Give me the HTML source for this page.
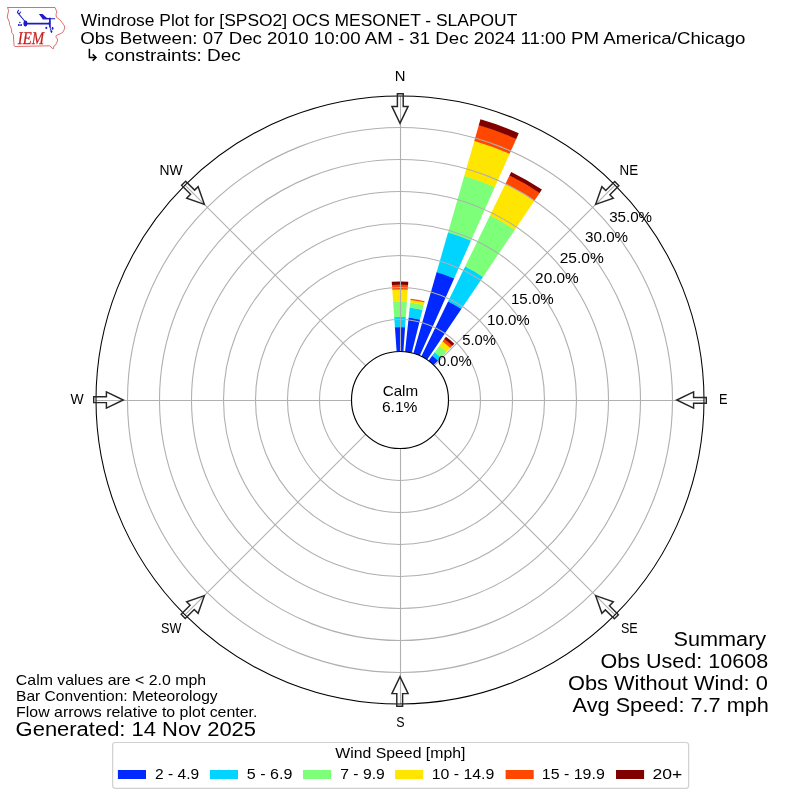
<!DOCTYPE html>
<html><head><meta charset="utf-8"><title>Windrose Plot</title>
<style>
html,body{margin:0;padding:0;background:#fff;width:800px;height:800px;overflow:hidden}
svg{display:block;will-change:transform}
text{font-family:"Liberation Sans",sans-serif;fill:#000;white-space:pre}
.g{fill:none;stroke:#b0b0b0;stroke-width:1.1}
.ar{fill:none;stroke:#262626;stroke-width:1.45;stroke-linejoin:miter;stroke-miterlimit:10}
</style></head><body>
<svg width="800" height="800" viewBox="0 0 800 800">
<rect width="800" height="800" fill="#fff"/>
<g id="bars">
<path d="M396.62 351.62L394.90 327.08A73.10 73.10 0 0 1 405.10 327.08L403.38 351.62A48.50 48.50 0 0 0 396.62 351.62Z" fill="#0028ff"/>
<path d="M394.93 327.43L394.18 316.80A83.40 83.40 0 0 1 405.82 316.80L405.07 327.43A72.75 72.75 0 0 0 394.93 327.43Z" fill="#00d4ff"/>
<path d="M394.21 317.15L393.12 301.64A98.60 98.60 0 0 1 406.88 301.64L405.79 317.15A83.05 83.05 0 0 0 394.21 317.15Z" fill="#7dff7a"/>
<path d="M393.15 301.99L392.27 289.47A110.80 110.80 0 0 1 407.73 289.47L406.85 301.99A98.25 98.25 0 0 0 393.15 301.99Z" fill="#ffe600"/>
<path d="M392.30 289.82L391.94 284.68A115.60 115.60 0 0 1 408.06 284.68L407.70 289.82A110.45 110.45 0 0 0 392.30 289.82Z" fill="#ff4700"/>
<path d="M391.96 285.03L391.73 281.69A118.60 118.60 0 0 1 408.27 281.69L408.04 285.03A115.25 115.25 0 0 0 391.96 285.03Z" fill="#800000"/>
<path d="M405.07 351.77L408.68 317.45A83.00 83.00 0 0 1 420.08 319.47L411.73 352.94A48.50 48.50 0 0 0 405.07 351.77Z" fill="#0028ff"/>
<path d="M408.64 317.80L409.72 307.51A93.00 93.00 0 0 1 422.50 309.76L419.99 319.81A82.65 82.65 0 0 0 408.64 317.80Z" fill="#00d4ff"/>
<path d="M409.68 307.86L410.25 302.44A98.10 98.10 0 0 1 423.73 304.81L422.41 310.10A92.65 92.65 0 0 0 409.68 307.86Z" fill="#7dff7a"/>
<path d="M410.22 302.79L410.56 299.55A101.00 101.00 0 0 1 424.43 302.00L423.65 305.15A97.75 97.75 0 0 0 410.22 302.79Z" fill="#ffe600"/>
<path d="M410.52 299.90L410.63 298.86A101.70 101.70 0 0 1 424.60 301.32L424.35 302.34A100.65 100.65 0 0 0 410.52 299.90Z" fill="#ff4700"/>
<path d="M413.37 353.38L436.74 271.86A133.30 133.30 0 0 1 454.22 278.22L419.73 355.69A48.50 48.50 0 0 0 413.37 353.38Z" fill="#0028ff"/>
<path d="M436.65 272.20L448.15 232.07A174.70 174.70 0 0 1 471.06 240.40L454.08 278.54A132.95 132.95 0 0 0 436.65 272.20Z" fill="#00d4ff"/>
<path d="M448.06 232.40L464.31 175.74A233.30 233.30 0 0 1 494.89 186.87L470.91 240.72A174.35 174.35 0 0 0 448.06 232.40Z" fill="#7dff7a"/>
<path d="M464.21 176.07L474.37 140.65A269.80 269.80 0 0 1 509.74 153.53L494.75 187.19A232.95 232.95 0 0 0 464.21 176.07Z" fill="#ffe600"/>
<path d="M474.27 140.99L478.86 124.98A286.10 286.10 0 0 1 516.37 138.63L509.60 153.85A269.45 269.45 0 0 0 474.27 140.99Z" fill="#ff4700"/>
<path d="M478.76 125.32L480.49 119.31A292.00 292.00 0 0 1 518.77 133.24L516.22 138.95A285.75 285.75 0 0 0 478.76 125.32Z" fill="#800000"/>
<path d="M421.26 356.41L448.22 301.13A110.00 110.00 0 0 1 461.51 308.81L427.12 359.79A48.50 48.50 0 0 0 421.26 356.41Z" fill="#0028ff"/>
<path d="M448.07 301.45L465.23 266.26A148.80 148.80 0 0 1 483.21 276.64L461.32 309.10A109.65 109.65 0 0 0 448.07 301.45Z" fill="#00d4ff"/>
<path d="M465.08 266.57L490.09 215.30A205.50 205.50 0 0 1 514.91 229.63L483.01 276.93A148.45 148.45 0 0 0 465.08 266.57Z" fill="#7dff7a"/>
<path d="M489.93 215.61L505.52 183.66A240.70 240.70 0 0 1 534.60 200.45L514.72 229.92A205.15 205.15 0 0 0 489.93 215.61Z" fill="#ffe600"/>
<path d="M505.36 183.97L509.59 175.30A250.00 250.00 0 0 1 539.80 192.74L534.40 200.74A240.35 240.35 0 0 0 505.36 183.97Z" fill="#ff4700"/>
<path d="M509.44 175.62L511.26 171.89A253.80 253.80 0 0 1 541.92 189.59L539.60 193.03A249.65 249.65 0 0 0 509.44 175.62Z" fill="#800000"/>
<path d="M428.51 360.76L432.33 355.50A55.00 55.00 0 0 1 438.21 360.44L433.69 365.11A48.50 48.50 0 0 0 428.51 360.76Z" fill="#0028ff"/>
<path d="M432.12 355.79L434.80 352.11A59.20 59.20 0 0 1 441.12 357.42L437.96 360.69A54.65 54.65 0 0 0 432.12 355.79Z" fill="#00d4ff"/>
<path d="M434.59 352.39L439.50 345.63A67.20 67.20 0 0 1 446.68 351.66L440.88 357.67A58.85 58.85 0 0 0 434.59 352.39Z" fill="#7dff7a"/>
<path d="M439.29 345.92L442.73 341.18A72.70 72.70 0 0 1 450.50 347.70L446.44 351.91A66.85 66.85 0 0 0 439.29 345.92Z" fill="#ffe600"/>
<path d="M442.53 341.47L444.44 338.84A75.60 75.60 0 0 1 452.52 345.62L450.26 347.96A72.35 72.35 0 0 0 442.53 341.47Z" fill="#ff4700"/>
<path d="M444.23 339.12L445.96 336.73A78.20 78.20 0 0 1 454.32 343.75L452.27 345.87A75.25 75.25 0 0 0 444.23 339.12Z" fill="#800000"/>
</g>
<g id="grid" class="g">
<circle cx="400" cy="400" r="80.5"/>
<circle cx="400" cy="400" r="112.5"/>
<circle cx="400" cy="400" r="144.5"/>
<circle cx="400" cy="400" r="176.5"/>
<circle cx="400" cy="400" r="208.5"/>
<circle cx="400" cy="400" r="240.5"/>
<circle cx="400" cy="400" r="272.5"/>
<line x1="400.5" y1="96" x2="400.5" y2="704"/><line x1="96" y1="400.5" x2="704" y2="400.5"/>
<line x1="185.04" y1="614.96" x2="614.96" y2="185.04"/>
<line x1="185.04" y1="185.04" x2="614.96" y2="614.96"/>
</g>
<circle cx="400" cy="400" r="304" fill="none" stroke="#000" stroke-width="1.05"/>
<circle cx="400" cy="400" r="48.5" fill="#fff" stroke="#000" stroke-width="1.15"/>
<g id="arrows" class="ar">
<path transform="translate(400 400) rotate(0)" d="M-2.6 -306.3L3.2 -306.3L3.2 -293.6L8.1 -293.6L0 -276.7L-8.1 -293.6L-2.6 -293.6Z"/>
<path transform="translate(400 400) rotate(45)" d="M-2.6 -306.3L3.2 -306.3L3.2 -293.6L8.1 -293.6L0 -276.7L-8.1 -293.6L-2.6 -293.6Z"/>
<path transform="translate(400 400) rotate(90)" d="M-2.6 -306.3L3.2 -306.3L3.2 -293.6L8.1 -293.6L0 -276.7L-8.1 -293.6L-2.6 -293.6Z"/>
<path transform="translate(400 400) rotate(135)" d="M-2.6 -306.3L3.2 -306.3L3.2 -293.6L8.1 -293.6L0 -276.7L-8.1 -293.6L-2.6 -293.6Z"/>
<path transform="translate(400 400) rotate(180)" d="M-2.6 -306.3L3.2 -306.3L3.2 -293.6L8.1 -293.6L0 -276.7L-8.1 -293.6L-2.6 -293.6Z"/>
<path transform="translate(400 400) rotate(225)" d="M-2.6 -306.3L3.2 -306.3L3.2 -293.6L8.1 -293.6L0 -276.7L-8.1 -293.6L-2.6 -293.6Z"/>
<path transform="translate(400 400) rotate(270)" d="M-2.6 -306.3L3.2 -306.3L3.2 -293.6L8.1 -293.6L0 -276.7L-8.1 -293.6L-2.6 -293.6Z"/>
<path transform="translate(400 400) rotate(315)" d="M-2.6 -306.3L3.2 -306.3L3.2 -293.6L8.1 -293.6L0 -276.7L-8.1 -293.6L-2.6 -293.6Z"/>
</g>
<text transform="translate(80.87 25.60) scale(1.0151 1)" font-size="17.17">Windrose Plot for [SPSO2] OCS MESONET - SLAPOUT</text>
<text transform="translate(80.18 43.50) scale(1.0885 1)" font-size="17.17">Obs Between: 07 Dec 2010 10:00 AM - 31 Dec 2024 11:00 PM America/Chicago</text>
<text transform="translate(104.57 61.00) scale(1.1069 1)" font-size="17.17">constraints: Dec</text>
<path d="M89.4 48.8V57.5H95.8" fill="none" stroke="#000" stroke-width="1.5"/><path d="M92.7 54.4L96 57.5L92.7 60.6" fill="none" stroke="#000" stroke-width="1.5"/>
<text transform="translate(15.87 684.70) scale(1.1101 1)" font-size="14.31">Calm values are &lt; 2.0 mph</text>
<text transform="translate(16.08 700.90) scale(1.0887 1)" font-size="14.31">Bar Convention: Meteorology</text>
<text transform="translate(16.05 716.70) scale(1.1122 1)" font-size="14.31">Flow arrows relative to plot center.</text>
<text transform="translate(15.60 735.90) scale(1.0976 1)" font-size="20.02">Generated: 14 Nov 2025</text>
<text transform="translate(673.55 645.50) scale(1.0820 1)" font-size="20.02">Summary</text>
<text transform="translate(600.46 667.60) scale(1.0766 1)" font-size="20.02">Obs Used: 10608</text>
<text transform="translate(568.05 689.70) scale(1.0890 1)" font-size="20.02">Obs Without Wind: 0</text>
<text transform="translate(572.60 711.80) scale(1.0843 1)" font-size="20.02">Avg Speed: 7.7 mph</text>
<text transform="translate(394.83 80.80) scale(1.0375 1)" font-size="14.31">N</text>
<text transform="translate(619.55 174.70) scale(0.9324 1)" font-size="14.31">NE</text>
<text transform="translate(719.00 403.75) scale(0.8903 1)" font-size="14.31">E</text>
<text transform="translate(620.95 632.60) scale(0.8789 1)" font-size="14.31">SE</text>
<text transform="translate(396.25 726.60) scale(0.8727 1)" font-size="14.31">S</text>
<text transform="translate(160.95 632.50) scale(0.8876 1)" font-size="14.31">SW</text>
<text transform="translate(70.48 403.75) scale(0.9736 1)" font-size="14.31">W</text>
<text transform="translate(159.51 174.60) scale(0.9680 1)" font-size="14.31">NW</text>
<text transform="translate(382.70 395.50) scale(1.0630 1)" font-size="14.31">Calm</text>
<text transform="translate(381.93 412.00) scale(1.0896 1)" font-size="14.31">6.1%</text>
<text transform="translate(437.93 366.00) scale(1.0317 1)" font-size="14.31">0.0%</text>
<text transform="translate(462.15 345.00) scale(1.0359 1)" font-size="14.31">5.0%</text>
<text transform="translate(487.01 325.00) scale(1.0547 1)" font-size="14.31">10.0%</text>
<text transform="translate(510.91 304.00) scale(1.0572 1)" font-size="14.31">15.0%</text>
<text transform="translate(535.09 283.00) scale(1.0777 1)" font-size="14.31">20.0%</text>
<text transform="translate(559.69 263.00) scale(1.0854 1)" font-size="14.31">25.0%</text>
<text transform="translate(585.07 242.00) scale(1.0608 1)" font-size="14.31">30.0%</text>
<text transform="translate(609.17 222.00) scale(1.0582 1)" font-size="14.31">35.0%</text>
<rect x="112.65" y="742.5" width="576" height="45.9" rx="2.8" fill="#fff" stroke="#d0d0d0" stroke-width="1.2"/>
<text transform="translate(335.26 758.40) scale(1.1061 1)" font-size="14.31">Wind Speed [mph]</text>
<rect x="117.9" y="770" width="28.1" height="9" fill="#0028ff"/>
<text transform="translate(155.09 779.00) scale(1.0863 1)" font-size="14.31">2 - 4.9</text>
<rect x="209.9" y="770" width="28.1" height="9" fill="#00d4ff"/>
<text transform="translate(246.80 779.00) scale(1.1236 1)" font-size="14.31">5 - 6.9</text>
<rect x="303.0" y="770" width="28.1" height="9" fill="#7dff7a"/>
<text transform="translate(340.28 779.00) scale(1.0965 1)" font-size="14.31">7 - 9.9</text>
<rect x="395.1" y="770" width="28.1" height="9" fill="#ffe600"/>
<text transform="translate(431.65 779.00) scale(1.1112 1)" font-size="14.31">10 - 14.9</text>
<rect x="505.6" y="770" width="28.1" height="9" fill="#ff4700"/>
<text transform="translate(541.85 779.00) scale(1.1149 1)" font-size="14.31">15 - 19.9</text>
<rect x="616.0" y="770" width="28.1" height="9" fill="#800000"/>
<text transform="translate(652.58 779.00) scale(1.2264 1)" font-size="14.31">20+</text>
<g id="logo">
<path d="M7.4 7.5H55L56 9.9L56.9 12L56 14.3L56.4 17.2L59.5 19.5L62.4 22.8L63.4 24.5L64.4 25.9L64.75 28.1L63.6 30.75L62.5 32.6L60.25 33.75L57.6 34.9L56.3 35.4L55.9 37.1L57.4 39L57.6 40.9L56.5 43.1L55.4 45.2L53.9 46.1L53.3 48.75L52.4 48.5L50.9 46.7L49.6 45.8L14.9 46.5L14.1 45.4L13.9 42.75L13.6 39L13.4 34.9L11.7 32.6L11.5 29.6L10.6 26.6L9.4 24.4L9.5 22.6L8 18.9L7.25 17L8 13.25L8.6 10.6L7.6 7.6Z" fill="none" stroke="#d43c3c" stroke-width="0.75" stroke-linejoin="round"/>
<g stroke="#1c1cc8" fill="none" stroke-linecap="round">
<path d="M25.4 23.6H49.6" stroke-width="1.6"/>
<path d="M24.6 21L17.4 12.3M17.4 12.3L18.5 10.2M18.9 14.1L20.7 12" stroke-width="1.05"/>
<path d="M42.6 18.8H54.7" stroke-width="1.1"/>
<path d="M49.9 18.4V26.5" stroke-width="1.7"/>
<path d="M49.9 26L50.4 28.6L51.5 32.3" stroke-width="1.0"/>
<path d="M18.4 25.2H21.6" stroke-width="0.9"/>
</g>
<path d="M47.6 23.6L49.9 21.6V25.6Z" fill="#1c1cc8"/>
<ellipse cx="25.4" cy="23.5" rx="1.95" ry="3" fill="#1c1cc8"/>
<path d="M38.9 14.1L42.6 14L46.7 17.8L49.5 18.3V19.2H43.2L41.3 17.2Z" fill="#1c1cc8"/>
<g fill="#1c1cc8"><circle cx="19.8" cy="22.4" r="0.75"/><circle cx="18.7" cy="24.9" r="0.8"/><circle cx="21.2" cy="24.9" r="0.8"/><ellipse cx="46.3" cy="27.9" rx="1" ry="1.15"/><ellipse cx="52.6" cy="28.2" rx="0.9" ry="1.5"/><ellipse cx="51.5" cy="31.6" rx="0.95" ry="1.1"/></g>
<text transform="translate(17.7 44) scale(0.83 1)" font-size="17.9" style="font-family:'Liberation Serif',serif;font-style:italic;text-rendering:geometricPrecision;fill:#c81e1e;stroke:#c81e1e;stroke-width:0.25">IEM</text>
</g>
</svg>
</body></html>
